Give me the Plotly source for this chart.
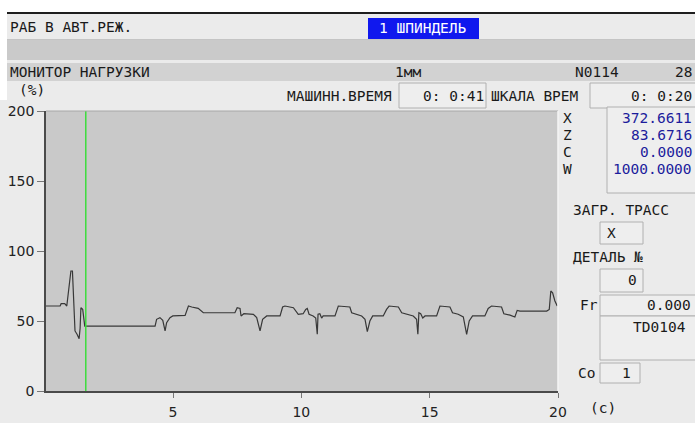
import plotly.graph_objects as go

# ---------------- data ----------------
time_s = [0.05, 0.60, 0.64, 0.78, 0.86, 0.92, 1.02, 1.08, 1.12, 1.18, 1.26, 1.34, 1.38, 1.41, 1.48, 1.54, 1.56,
          4.30, 4.36, 4.49, 4.60, 4.69, 4.75, 4.88, 4.99, 5.47, 5.60, 5.73, 5.98, 6.18, 7.41, 7.50, 7.61, 7.65,
          7.76, 8.13, 8.26, 8.39, 8.49, 8.65, 9.17, 9.27, 9.36, 9.69, 9.79, 9.88, 10.07, 10.17, 10.23, 10.30,
          10.46, 10.56, 10.62, 10.65, 10.72, 10.79, 10.85, 11.31, 11.44, 11.89, 11.96, 12.15, 12.35, 12.48,
          12.57, 12.67, 12.78, 13.19, 13.32, 13.42, 13.78, 13.91, 14.10, 14.36, 14.49, 14.54, 14.58, 14.65,
          14.73, 14.82, 15.27, 15.40, 15.79, 15.89, 16.11, 16.31, 16.44, 16.54, 16.67, 17.15, 17.28, 17.41,
          17.80, 17.89, 18.13, 18.32, 18.41, 18.52, 19.56, 19.66, 19.72, 19.79, 19.88, 19.97]
load_pct = [60.7, 60.7, 62.4, 62.4, 60.7, 71.4, 85.7, 85.7, 71.0, 42.9, 40.5, 37.4, 45.0, 59.5, 58.3, 47.6, 46.4,
            46.4, 51.2, 52.4, 50.5, 42.9, 48.8, 52.4, 53.6, 54.0, 60.7, 60.0, 59.0, 55.9, 55.9, 59.5, 59.0, 53.6,
            55.2, 54.8, 52.4, 42.9, 51.2, 53.6, 53.6, 60.0, 60.7, 59.5, 57.1, 54.8, 55.2, 58.3, 59.0, 54.8,
            53.6, 52.1, 40.5, 54.8, 55.2, 52.1, 53.6, 53.6, 60.7, 60.0, 55.9, 54.8, 53.6, 51.2,
            42.4, 50.0, 53.6, 53.6, 58.3, 60.7, 60.0, 55.9, 54.8, 53.6, 51.2, 40.5, 55.9, 55.2,
            52.1, 53.6, 53.6, 60.7, 60.0, 55.9, 54.8, 52.9, 40.5, 50.0, 53.6, 53.6, 59.0, 60.7,
            60.0, 55.2, 54.2, 52.9, 57.6, 57.1, 57.1, 58.3, 71.4, 70.2, 64.3, 60.7]
cursor_time = [1.6]
x_ticks = [5, 10, 15, 20]
y_ticks = [0, 50, 100, 150, 200]

axis_labels = ["X", "Z", "C", "W"]
axis_values = ["372.6611", "83.6716", "0.0000", "1000.0000"]

# ---------------- geometry ----------------
W, H = 695, 423
L, R, T, B = 46, 558, 111, 391


def PX(px):
    return (px - L) / (R - L)


def PY(py):
    return (B - py) / (B - T)


BG = "#ebebeb"
UI_FONT = "DejaVu Sans Mono"
UI_SIZE = 14.5
fig = go.Figure()

fig.add_trace(go.Scatter(x=time_s, y=load_pct, mode="lines",
                         line=dict(color="#383838", width=1.2), hoverinfo="skip", showlegend=False))
for ct in cursor_time:
    fig.add_trace(go.Scatter(x=[ct, ct], y=[0, 200], mode="lines",
                             line=dict(color="#3ddc3d", width=1.5), hoverinfo="skip", showlegend=False))

shapes = []


def rect(x0, y0, x1, y1, fill, line=None, lw=1):
    shapes.append(dict(type="rect", xref="paper", yref="paper",
                       x0=PX(x0), x1=PX(x1), y0=PY(y1), y1=PY(y0),
                       fillcolor=fill, line=dict(color=line or fill, width=lw if line else 0),
                       layer="above"))


rect(0, 0, W, 12, "#ffffff")
rect(0, 0, 7, 100, "#ffffff")
rect(7, 12, W, 14, "#1e1e1e")
rect(7, 39, W, 40, "#c4c4c4")
rect(7, 40, W, 60, "#cacaca")
rect(7, 63, W, 81, "#d2d2d2")
rect(368, 18, 479, 39, "#1018ee")
# boxes
box_line = "#b0b0b0"
box_fill = "#eeeeee"
rect(399, 83, 486, 108, box_fill, box_line)
rect(590, 83, 700, 108, box_fill, box_line)
rect(607, 107, 700, 193, box_fill, box_line)
rect(600, 222, 643, 244, box_fill, box_line)
rect(600, 269, 643, 292, box_fill, box_line)
rect(600, 295, 700, 316, box_fill, box_line)
rect(600, 316, 700, 360, box_fill, box_line)
rect(600, 363, 640, 383, box_fill, box_line)
# plot frame (top/right light)
shapes.append(dict(type="line", xref="paper", yref="paper", x0=0, x1=1, y0=1, y1=1,
                   line=dict(color="#a8a8a8", width=1), layer="above"))
shapes.append(dict(type="line", xref="paper", yref="paper", x0=1, x1=1, y0=0, y1=1,
                   line=dict(color="#f4f4f4", width=1.5), layer="above"))

annotations = []


def txt(s, px, py, anchor="left", color="#1a1a1a", size=UI_SIZE, family=UI_FONT):
    annotations.append(dict(text=s, xref="paper", yref="paper", x=PX(px), y=PY(py),
                            xanchor=anchor, yanchor="middle", showarrow=False,
                            font=dict(family=family, size=size, color=color)))


txt("РАБ В АВТ.РЕЖ.", 8, 27)
txt("1 ШПИНДЕЛЬ", 423, 28, anchor="center", color="#ffffff")
txt("МОНИТОР НАГРУЗКИ", 8, 72)
txt("1мм", 408, 72, anchor="center")
txt("N0114", 597, 72, anchor="center")
txt("28", 694, 72, anchor="right")
txt("(%)", 32, 90, anchor="center")
txt("МАШИНН.ВРЕМЯ", 394, 96, anchor="right")
txt("0: 0:41", 486, 96, anchor="right")
txt("ШКАЛА ВРЕМ", 489, 96)
txt("0: 0:20", 694, 96, anchor="right")
for i, (lab, val) in enumerate(zip(axis_labels, axis_values)):
    yy = 118 + 17 * i
    txt(lab, 561, yy)
    txt(val, 694, yy, anchor="right", color="#1c1c9c")
txt("ЗАГР. ТРАСС", 571, 210)
txt("X", 605, 233)
txt("ДЕТАЛЬ №", 571, 257)
txt("0", 639, 280, anchor="right")
txt("Fr", 578, 305)
txt("0.000", 693, 305, anchor="right")
txt("TD0104", 688, 327, anchor="right")
txt("Co", 576, 373)
txt("1", 626, 373, anchor="center")
txt("(c)", 588, 408)

fig.update_layout(
    width=W, height=H,
    margin=dict(l=L, r=W - R, t=T, b=H - B, pad=0, autoexpand=False),
    paper_bgcolor=BG, plot_bgcolor="#c9c9c9",
    shapes=shapes, annotations=annotations,
    showlegend=False,
    xaxis=dict(range=[0.05, 20], tickvals=x_ticks, ticktext=[str(v) for v in x_ticks],
               ticks="outside", ticklen=5, tickcolor="#777777", tickwidth=1, ticklabelstandoff=2,
               automargin=False,
               showgrid=False, zeroline=False, showline=True, linecolor="#4a4a4a", linewidth=1.5,
               tickfont=dict(family="DejaVu Sans", size=14, color="#222222"), fixedrange=True),
    yaxis=dict(range=[0, 200], tickvals=y_ticks, ticktext=[str(v) for v in y_ticks],
               ticks="outside", ticklen=7, tickcolor="#777777", tickwidth=1,
               automargin=False,
               showgrid=False, zeroline=False, showline=True, linecolor="#4a4a4a", linewidth=1.5,
               tickfont=dict(family="DejaVu Sans", size=14, color="#222222"), fixedrange=True),
)

fig.write_html("out.html")
